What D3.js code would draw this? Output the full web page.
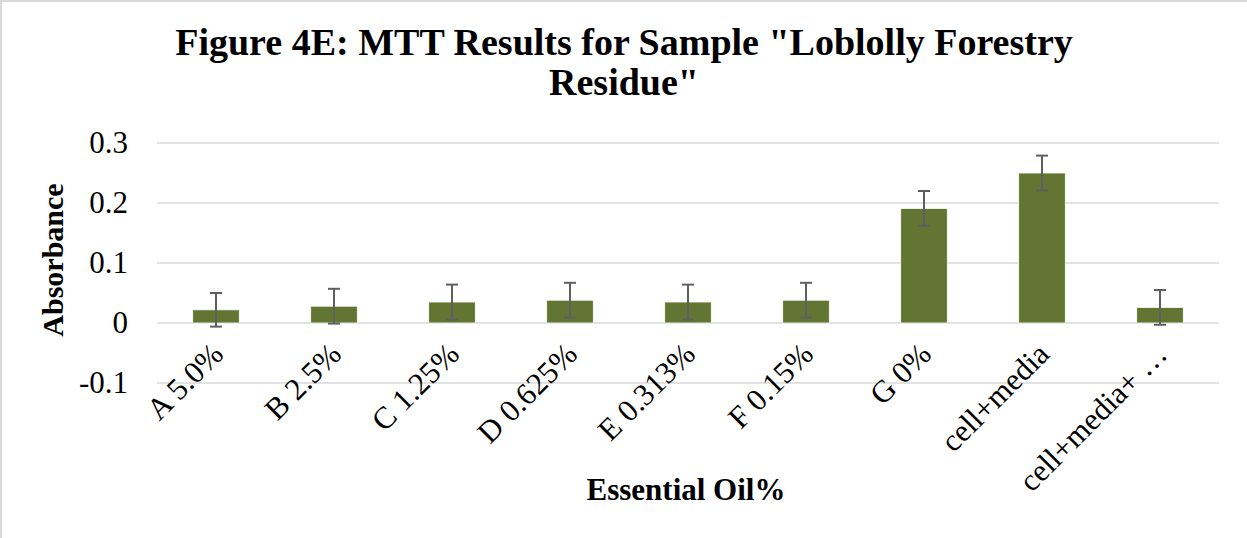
<!DOCTYPE html>
<html>
<head>
<meta charset="utf-8">
<script src="https://cdn.jsdelivr.net/npm/d3@7"></script>
<style>
  html, body { margin: 0; padding: 0; background: #fff; }
  svg { display: block; }
</style>
</head>
<body>
<svg id="chart" width="1247" height="538"></svg>
<script>
const categories = ["A 5.0%", "B 2.5%", "C 1.25%", "D 0.625%", "E 0.313%", "F 0.15%", "G 0%", "cell+media", "cell+media+ \u2026"];
const absorbance = [0.022, 0.028, 0.035, 0.038, 0.035, 0.038, 0.191, 0.250, 0.026];
const errors = [0.028, 0.029, 0.029, 0.029, 0.029, 0.029, 0.029, 0.029, 0.029];
const yTicks = [-0.1, 0, 0.1, 0.2, 0.3];
const yTickLabels = ["-0.1", "0", "0.1", "0.2", "0.3"];
const titleLines = ["Figure 4E: MTT Results for Sample \"Loblolly Forestry", "Residue\""];
const yTitle = "Absorbance";
const xTitle = "Essential Oil%";

const svg = d3.select("#chart");
const W = 1247, H = 538;
const serif = '"Liberation Serif", "Times New Roman", serif';

// outer border
svg.append("rect").attr("x", 1).attr("y", 1).attr("width", W + 10).attr("height", H + 10)
  .attr("fill", "#fff").attr("stroke", "#d9d9d9").attr("stroke-width", 2);

const plot = { left: 157, right: 1219, top: 143, bottom: 383 };

const x = d3.scaleBand().domain(categories).range([plot.left, plot.right]).padding(0);
const y = d3.scaleLinear().domain([-0.1, 0.3]).range([plot.bottom, plot.top]);

// gridlines
svg.append("g").selectAll("line").data(yTicks).join("line")
  .attr("x1", plot.left).attr("x2", plot.right)
  .attr("y1", d => y(d)).attr("y2", d => y(d))
  .attr("stroke", "#d9d9d9").attr("stroke-width", 1.5);

// y tick labels
svg.append("g").selectAll("text").data(yTicks).join("text")
  .attr("x", 128).attr("y", d => y(d) + 10)
  .attr("text-anchor", "end")
  .style("font-family", serif).style("font-size", "31px").attr("fill", "#000")
  .text((d, i) => yTickLabels[i]);

// bars
const barW = x.bandwidth() * 0.395;
svg.append("g").selectAll("rect").data(categories).join("rect")
  .attr("x", d => x(d) + x.bandwidth() / 2 - barW / 2)
  .attr("width", barW)
  .attr("y", (d, i) => y(Math.max(0, absorbance[i])))
  .attr("height", (d, i) => Math.abs(y(absorbance[i]) - y(0)))
  .attr("fill", "#637532").attr("stroke", "#ffffff").attr("stroke-width", 0.8);

// error bars
const eg = svg.append("g").attr("stroke", "#5f5f5f").attr("stroke-width", 2);
categories.forEach((c, i) => {
  const cx = x(c) + x.bandwidth() / 2;
  const y1 = y(absorbance[i] + errors[i]);
  const y0 = y(absorbance[i] - errors[i]);
  eg.append("line").attr("x1", cx).attr("x2", cx).attr("y1", y1).attr("y2", y0);
  eg.append("line").attr("x1", cx - 6).attr("x2", cx + 6).attr("y1", y1).attr("y2", y1);
  eg.append("line").attr("x1", cx - 6).attr("x2", cx + 6).attr("y1", y0).attr("y2", y0);
});

// x labels rotated
svg.append("g").selectAll("text").data(categories).join("text")
  .attr("transform", d => `translate(${x(d) + x.bandwidth() / 2 + 9},${y(0) + 33}) rotate(-45)`)
  .attr("text-anchor", "end")
  .style("font-family", serif).style("font-size", "31px").attr("fill", "#000")
  .text(d => d);

// title
svg.append("g").selectAll("text").data(titleLines).join("text")
  .attr("x", 624).attr("y", (d, i) => 55 + i * 40)
  .attr("text-anchor", "middle")
  .style("font-family", serif).style("font-size", "38px").style("font-weight", "bold").attr("fill", "#000")
  .text(d => d);

// y title
svg.append("text")
  .attr("transform", `translate(63,260) rotate(-90)`)
  .attr("text-anchor", "middle")
  .style("font-family", serif).style("font-size", "30px").style("font-weight", "bold").attr("fill", "#000")
  .text(yTitle);

// x title
svg.append("text")
  .attr("x", 686).attr("y", 500)
  .attr("text-anchor", "middle")
  .style("font-family", serif).style("font-size", "31px").style("font-weight", "bold").attr("fill", "#000")
  .text(xTitle);
</script>
</body>
</html>
